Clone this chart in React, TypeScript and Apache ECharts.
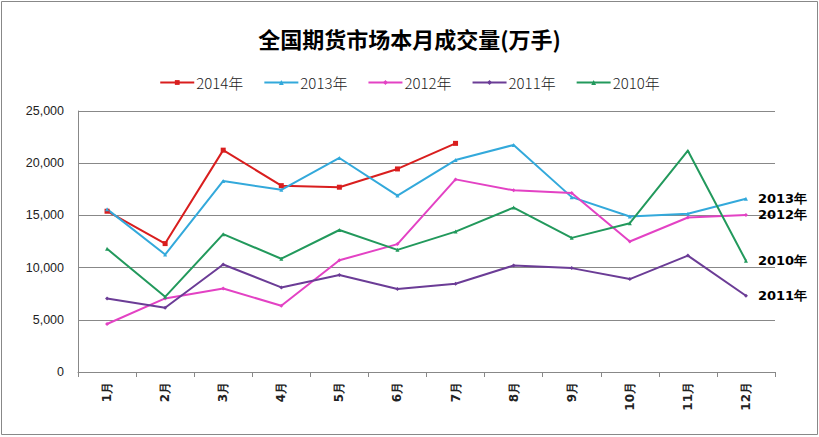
import React, { useEffect, useRef } from "react";
import * as echarts from "echarts";

const months = ["1月", "2月", "3月", "4月", "5月", "6月", "7月", "8月", "9月", "10月", "11月", "12月"];
const y2014 = [15400, 12300, 21250, 17850, 17700, 19450, 21900];
const y2013 = [15600, 11250, 18300, 17450, 20500, 16900, 20300, 21750, 16750, 14900, 15150, 16600];
const y2012 = [4600, 7050, 8000, 6350, 10700, 12250, 18450, 17400, 17150, 12500, 14800, 15050];
const y2011 = [7050, 6150, 10300, 8100, 9300, 7950, 8450, 10200, 9950, 8900, 11150, 7300];
const y2010 = [11800, 7200, 13200, 10850, 13600, 11700, 13450, 15750, 12850, 14250, 21200, 10650];
const yTicks = [0, 5000, 10000, 15000, 20000, 25000];

const titleText = "全国期货市场本月成交量(万手)";

export default function App() {
  const ref = useRef<HTMLDivElement>(null);
  useEffect(() => {
    document.body.style.margin = "0";
    const chart = echarts.init(ref.current!, null, { renderer: "svg" });
    const mk = (name: string, data: number[], color: string, symbol: string, endLabel: boolean) => ({
      name,
      type: "line",
      data,
      symbol,
      symbolSize: symbol === "rect" ? 5 : 4,
      showAllSymbol: true,
      lineStyle: { color, width: 2 },
      itemStyle: { color },
      endLabel: endLabel
        ? {
            show: true,
            formatter: "{a}",
            distance: 12,
            color: "#000",
            fontFamily: "DejaVu Sans",
            fontWeight: "bold",
            fontSize: 13,
          }
        : { show: false },
      emphasis: { disabled: true },
    });
    chart.setOption({
      animation: false,
      backgroundColor: "#fff",
      title: {
        text: titleText,
        left: "center",
        top: 22,
        textStyle: { fontFamily: "Noto Sans CJK SC", fontWeight: "bold", fontSize: 22, color: "#000" },
      },
      legend: {
        top: 70,
        left: "center",
        itemGap: 20,
        itemWidth: 34,
        itemHeight: 6,
        textStyle: { fontFamily: "Noto Sans CJK SC", fontWeight: 300, fontSize: 15, color: "#222", padding: [0, 0, 0, -3] },
        data: ["2014年", "2013年", "2012年", "2011年", "2010年"],
      },
      grid: { left: 78, right: 44, top: 111, bottom: 65, containLabel: false },
      xAxis: {
        type: "category",
        data: months,
        boundaryGap: true,
        axisLine: { show: true, lineStyle: { color: "#888", width: 1 } },
        axisTick: { show: true, length: 5, lineStyle: { color: "#888" } },
        axisLabel: {
          rotate: 90,
          interval: 0,
          margin: 10,
          fontFamily: "DejaVu Sans",
          fontWeight: "bold",
          fontSize: 12,
          color: "#222",
        },
      },
      yAxis: {
        type: "value",
        min: yTicks[0],
        max: yTicks[yTicks.length - 1],
        interval: 5000,
        axisLine: { show: true, lineStyle: { color: "#888", width: 1 } },
        axisTick: { show: false },
        splitLine: { show: true, lineStyle: { color: "#888", width: 1 } },
        axisLabel: {
          margin: 14,
          fontFamily: "Liberation Sans",
          fontSize: 12.5,
          color: "#222",
          formatter: (v: number) => v.toLocaleString("en-US"),
        },
      },
      graphic: [
        {
          type: "rect",
          shape: { x: 1.5, y: 1.5, width: 816, height: 433 },
          style: { fill: "none", stroke: "#888", lineWidth: 1 },
          silent: true,
        },
      ],
      series: [
        mk("2014年", y2014, "#D91E1E", "rect", false),
        mk("2013年", y2013, "#33A9DB", "triangle", true),
        mk("2012年", y2012, "#E342C4", "diamond", true),
        mk("2011年", y2011, "#6B3C96", "diamond", true),
        mk("2010年", y2010, "#22995C", "triangle", true),
      ],
    });
    return () => chart.dispose();
  }, []);
  return <div ref={ref} style={{ width: 819, height: 437 }} />;
}
